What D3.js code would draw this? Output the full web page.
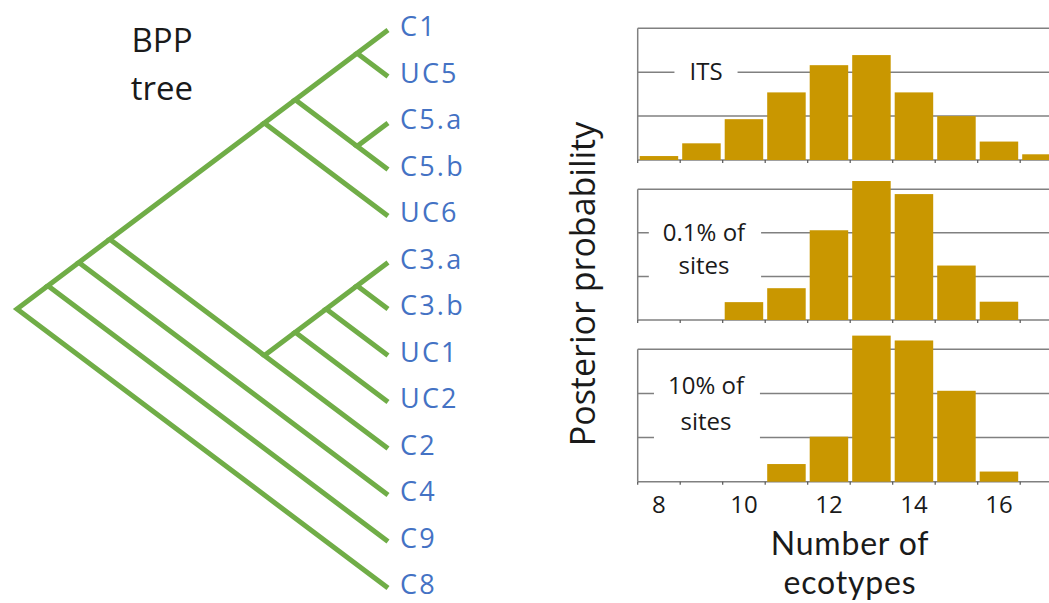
<!DOCTYPE html>
<html>
<head>
<meta charset="utf-8">
<script src="https://cdn.jsdelivr.net/npm/d3@7"></script>
<style>
  html, body { margin: 0; padding: 0; background: #fff; }
  svg { display: block; font-family: "Open Sans", "DejaVu Sans", sans-serif; }
</style>
</head>
<body>
<svg id="chart" width="1049" height="603"></svg>
<script>
// ---------------- DATA ----------------
const leaves = ["C1","UC5","C5.a","C5.b","UC6","C3.a","C3.b","UC1","UC2","C2","C4","C9","C8"];
const treeNested = [[[[
  [[["C1","UC5"],["C5.a","C5.b"]],"UC6"],
  [[[["C3.a","C3.b"],"UC1"],"UC2"],"C2"]
],"C4"],"C9"],"C8"];
const treeTitle = ["BPP", "tree"];

const ecotypes = [8, 9, 10, 11, 12, 13, 14, 15, 16, 17];
const probITS    = [0.009, 0.038, 0.093, 0.154, 0.216, 0.239, 0.154, 0.100, 0.042, 0.013];
const prob01     = [0,     0,     0.041, 0.073, 0.206, 0.319, 0.289, 0.125, 0.042, 0];
const prob10     = [0,     0,     0,     0.040, 0.102, 0.331, 0.320, 0.206, 0.023, 0];
const panelLabels = [["ITS"], ["0.1% of", "sites"], ["10% of", "sites"]];
const xTicks = [8, 10, 12, 14, 16];
const yGrid = [0, 0.1, 0.2, 0.3];
const xTitle = ["Number of", "ecotypes"];
const yTitle = "Posterior probability";

// ---------------- STYLE / LAYOUT ----------------
const green = "#70AD47", blue = "#4472C4", gold = "#C99700", grid = "#808080", ink = "#1a1a1a";
const svg = d3.select("#chart");

// multi-line text helper (one <text>, several <tspan>)
function multiline(sel, lines, x, y0, dys) {
  sel.selectAll("tspan")
    .data(lines)
    .join("tspan")
    .attr("x", x)
    .attr("y", (d, i) => y0 + dys[i])
    .text(d => d);
  return sel;
}

// ---------------- TREE ----------------
const leafY = d3.scalePoint().domain(leaves).range([30, 588]);
const spanX = d3.scaleLinear().domain([0, leaves.length - 1]).range([388, 17]);

const root = d3.hierarchy(treeNested, d => Array.isArray(d) ? d : null);
root.eachAfter(n => {
  if (!n.children) {
    n.i0 = n.i1 = leaves.indexOf(n.data);
  } else {
    n.i0 = d3.min(n.children, c => c.i0);
    n.i1 = d3.max(n.children, c => c.i1);
  }
  n.px = spanX(n.i1 - n.i0);
  n.py = (leafY(leaves[n.i0]) + leafY(leaves[n.i1])) / 2;
});

const gTree = svg.append("g");
gTree.selectAll("path.branch")
  .data(root.descendants().filter(n => n.children))
  .join("path")
  .attr("class", "branch")
  .attr("d", n => {
    const [a, b] = n.children;
    return `M${a.px},${a.py}L${n.px},${n.py}L${b.px},${b.py}`;
  })
  .attr("fill", "none")
  .attr("stroke", green)
  .attr("stroke-width", 5)
  .attr("stroke-linejoin", "miter")
  .attr("stroke-miterlimit", 10);

gTree.selectAll("text.leaf")
  .data(leaves)
  .join("text")
  .attr("class", "leaf")
  .attr("x", 400)
  .attr("y", d => leafY(d) + 6)
  .attr("fill", blue)
  .attr("font-size", 27)
  .attr("letter-spacing", 2.2)
  .text(d => d);

multiline(
  gTree.append("text")
    .attr("text-anchor", "middle")
    .attr("font-size", 33)
    .attr("fill", ink),
  treeTitle, 162, 52, [0, 48]);

// ---------------- HISTOGRAMS ----------------
const x = d3.scaleLinear().domain([7.5, 17.5]).range([637.7, 1062.7]);
const binW = x(1) - x(0);
const panels = [
  { values: probITS, top: 28.3,  bottom: 160,   label: panelLabels[0], lx: 706, ly: [8],      box: 15 },
  { values: prob01,  top: 189.3, bottom: 320,   label: panelLabels[1], lx: 704, ly: [8, 41],  box: 14 },
  { values: prob10,  top: 349.3, bottom: 481.7, label: panelLabels[2], lx: 706, ly: [1, 37],  box: 14 }
];

panels.forEach(p => {
  const y = d3.scaleLinear().domain([0, 0.3]).range([p.bottom, p.top]);
  const g = svg.append("g");

  g.selectAll("line.grid")
    .data(yGrid)
    .join("line")
    .attr("x1", x.range()[0]).attr("x2", x.range()[1])
    .attr("y1", d => y(d)).attr("y2", d => y(d))
    .attr("stroke", grid)
    .attr("stroke-width", 1.5);

  g.append("line")
    .attr("x1", x.range()[0]).attr("x2", x.range()[0])
    .attr("y1", y(0)).attr("y2", y(0.3))
    .attr("stroke", grid).attr("stroke-width", 1.5);

  g.selectAll("line.btick")
    .data(d3.range(ecotypes.length + 1))
    .join("line")
    .attr("x1", i => x(ecotypes[0] - 0.5 + i)).attr("x2", i => x(ecotypes[0] - 0.5 + i))
    .attr("y1", y(0)).attr("y2", y(0) + 3)
    .attr("stroke", "#555").attr("stroke-width", 1.2);

  const lg = g.append("g");
  multiline(
    lg.append("text")
      .attr("text-anchor", "middle")
      .attr("font-size", 24)
      .attr("fill", ink),
    p.label, p.lx, y(0.2), p.ly);
  const bb = lg.node().getBBox();
  lg.insert("rect", "text")
    .attr("x", bb.x - p.box).attr("width", bb.width + 2 * p.box)
    .attr("y", bb.y - 4).attr("height", bb.height + 8)
    .attr("fill", "#fff");

  g.selectAll("rect.bar")
    .data(ecotypes.map((e, i) => ({ e, v: p.values[i] })).filter(d => d.v > 0))
    .join("rect")
    .attr("class", "bar")
    .attr("x", d => x(d.e - 0.5) + 2)
    .attr("width", binW - 4)
    .attr("y", d => y(d.v))
    .attr("height", d => y(0) - y(d.v))
    .attr("fill", gold);
});

svg.selectAll("text.xtick")
  .data(xTicks)
  .join("text")
  .attr("class", "xtick")
  .attr("x", d => x(d))
  .attr("y", 513)
  .attr("text-anchor", "middle")
  .attr("font-size", 24)
  .attr("fill", ink)
  .text(d => d);

// axis titles
svg.selectAll("text.xtitle")
  .data(xTitle)
  .join("text")
  .attr("class", "xtitle")
  .attr("x", 850)
  .attr("y", (d, i) => 555 + i * 39)
  .attr("text-anchor", "middle")
  .attr("font-family", "Lato, 'Open Sans', sans-serif")
  .attr("font-size", 32)
  .attr("letter-spacing", 0.8)
  .attr("fill", ink)
  .text(d => d);

svg.append("text")
  .attr("transform", "translate(595,284) rotate(-90)")
  .attr("text-anchor", "middle")
  .attr("font-size", 34)
  .attr("fill", ink)
  .text(yTitle);
</script>
</body>
</html>
